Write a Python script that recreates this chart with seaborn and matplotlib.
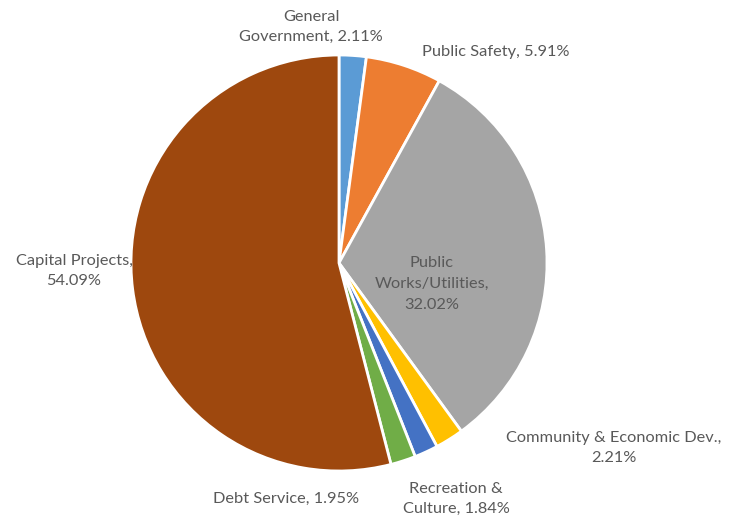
import matplotlib
matplotlib.use("Agg")
import matplotlib.pyplot as plt
import seaborn as sns

sns.set_theme(style="white")
plt.rcParams["font.family"] = ["Lato", "DejaVu Sans"]

categories = [
    "General Government", "Public Safety", "Public Works/Utilities",
    "Community & Economic Dev.", "Recreation & Culture", "Debt Service",
    "Capital Projects",
]
shares = [2.11, 5.91, 32.02, 2.21, 1.84, 1.95, 54.09]
label_texts = [
    "General\nGovernment, 2.11%",
    "Public Safety, 5.91%",
    "Public\nWorks/Utilities,\n32.02%",
    "Community & Economic Dev.,\n2.21%",
    "Recreation &\nCulture, 1.84%",
    "Debt Service, 1.95%",
    "Capital Projects,\n54.09%",
]
colors = ["#5B9BD5", "#ED7D31", "#A5A5A5", "#FFC000", "#4472C4", "#70AD47", "#9E480E"]

# label anchor points in figure pixels (x from left, y from top)
label_px = [(311, 27), (496, 52), (432, 284), (614, 448), (456, 499), (286, 499), (74, 271)]

W, H = 733, 519
fig = plt.figure(figsize=(W / 100, H / 100), dpi=100)
cx, cy, r = 339, 263, 208
ax = fig.add_axes([(cx - r) / W, (H - cy - r) / H, 2 * r / W, 2 * r / H])
ax.pie(shares, colors=colors, startangle=90, counterclock=False, radius=1,
       wedgeprops=dict(edgecolor="white", linewidth=2))
ax.set_xlim(-1, 1)
ax.set_ylim(-1, 1)
ax.set_aspect("equal")
ax.axis("off")

for txt, (px, py) in zip(label_texts, label_px):
    fig.text(px / W, 1 - py / H, txt, ha="center", va="center", fontsize=11.8,
             color="#595959", linespacing=1.6)

fig.savefig("out.png", dpi=100, facecolor="white")
